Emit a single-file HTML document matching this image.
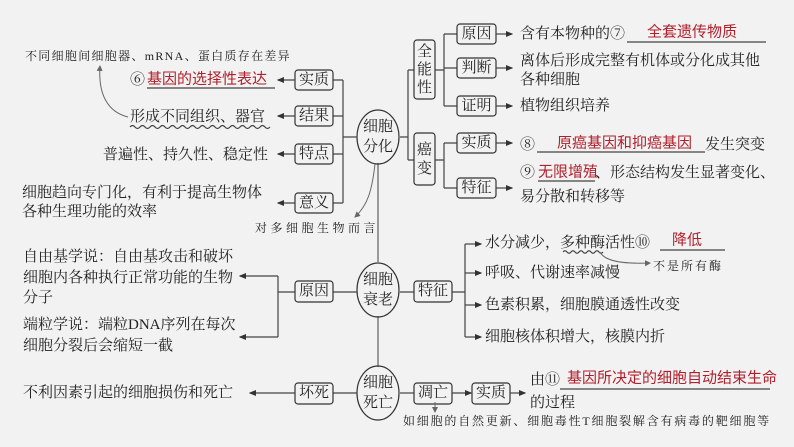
<!DOCTYPE html>
<html><head><meta charset="utf-8"><style>
html,body{margin:0;padding:0;background:#f2f2f2;}
svg{display:block;}
text{font-family:"Liberation Serif","Noto Serif CJK SC","Noto Sans CJK SC",serif;font-size:15px;fill:#222;dominant-baseline:central;}
.r{fill:#b0202c;font-family:"Liberation Sans","Noto Sans CJK SC",sans-serif;}
.n{font-size:12px;fill:#222;font-family:"Liberation Serif","Noto Serif CJK SC",serif;}
.b{fill:none;stroke:#333;stroke-width:1.2;}
.l{fill:none;stroke:#444;stroke-width:1.2;}
.g{fill:none;stroke:#999;stroke-width:2;}
</style></head><body>
<svg width="794" height="447" viewBox="0 0 794 447" xmlns="http://www.w3.org/2000/svg">
<defs>
<marker id="a" markerWidth="6" markerHeight="6" refX="5" refY="3" orient="auto"><path d="M0,0.5 L6,3 L0,5.5 Z" fill="#333"/></marker>
<marker id="s" markerWidth="7" markerHeight="7" refX="5" refY="3.5" orient="auto"><path d="M0,0.5 L6,3.5 L0,6.5 Z" fill="#666"/></marker>
</defs>

<path class="g" d="M378 163 V262 M378 316 V367"/>

<ellipse class="b" cx="378" cy="137" rx="21" ry="27" stroke-width="1.4"/>
<text x="378" y="127" text-anchor="middle">细胞</text>
<text x="378" y="147" text-anchor="middle">分化</text>
<path class="l" d="M357 137 H343 M343 80 V203 M343 80 H333 M343 116 H333 M343 154 H333 M343 203 H333"/>
<rect class="b" x="295" y="70" width="38" height="20" rx="3"/><text x="314" y="80" text-anchor="middle">实质</text>
<rect class="b" x="295" y="106" width="38" height="20" rx="3"/><text x="314" y="116" text-anchor="middle">结果</text>
<rect class="b" x="295" y="144" width="38" height="20" rx="3"/><text x="314" y="154" text-anchor="middle">特点</text>
<rect class="b" x="295" y="193" width="38" height="20" rx="3"/><text x="314" y="203" text-anchor="middle">意义</text>
<path class="l" marker-end="url(#a)" d="M295 80 H278"/>
<path class="l" marker-end="url(#a)" d="M295 116 H278"/>
<path class="l" marker-end="url(#a)" d="M295 154 H278"/>
<path class="l" marker-end="url(#a)" d="M295 203 H278"/>
<text class="n" x="25" y="56" letter-spacing="1.3">不同细胞间细胞器、mRNA、蛋白质存在差异</text>
<text x="130" y="80">⑥</text><text class="r" x="147" y="79">基因的选择性表达</text>
<path class="l" d="M147 88 H275"/>
<text x="130" y="117">形成不同组织、器官</text>
<path class="l" d="M130 127 q2.5 -3 5 0 t5 0 t5 0 t5 0 t5 0 t5 0 t5 0 t5 0 t5 0 t5 0 t5 0 t5 0 t5 0 t5 0 t5 0 t5 0 t5 0 t5 0 t5 0 t5 0 t5 0 t5 0 t5 0 t5 0 t5 0 t5 0 t5 0 t5 0"/>
<path fill="none" stroke="#666" stroke-width="1" marker-end="url(#s)" d="M128 117 C108 112 98 95 100 66"/>
<text x="103" y="155">普遍性、持久性、稳定性</text>
<text x="22" y="193">细胞趋向专门化，有利于提高生物体</text>
<text x="22" y="212">各种生理功能的效率</text>
<path fill="none" stroke="#666" stroke-width="1" marker-end="url(#s)" d="M375 164 C372 190 368 205 355 217"/>
<text class="n" x="255" y="228" letter-spacing="3.5">对多细胞生物而言</text>

<path class="l" d="M400 137 H408 M408 70 V160 M408 70 H414 M408 160 H414"/>
<rect class="b" x="414" y="40" width="21" height="59" rx="3"/>
<text x="424.5" y="52" text-anchor="middle">全</text><text x="424.5" y="70" text-anchor="middle">能</text><text x="424.5" y="88" text-anchor="middle">性</text>
<rect class="b" x="414" y="133" width="21" height="52" rx="3"/>
<text x="424.5" y="150" text-anchor="middle">癌</text><text x="424.5" y="169" text-anchor="middle">变</text>
<path class="l" d="M435 70 H444 M444 34 V106 M444 34 H457 M444 68 H457 M444 106 H457 M435 160 H444 M444 143 V188 M444 143 H457 M444 188 H457"/>
<rect class="b" x="457" y="24" width="39" height="20" rx="3"/><text x="476.5" y="34" text-anchor="middle">原因</text>
<rect class="b" x="457" y="58" width="39" height="20" rx="3"/><text x="476.5" y="68" text-anchor="middle">判断</text>
<rect class="b" x="457" y="96" width="39" height="20" rx="3"/><text x="476.5" y="106" text-anchor="middle">证明</text>
<rect class="b" x="457" y="133" width="39" height="20" rx="3"/><text x="476.5" y="143" text-anchor="middle">实质</text>
<rect class="b" x="457" y="178" width="39" height="20" rx="3"/><text x="476.5" y="188" text-anchor="middle">特征</text>
<path class="l" marker-end="url(#a)" d="M496 34 H512"/>
<path class="l" marker-end="url(#a)" d="M496 68 H512"/>
<path class="l" marker-end="url(#a)" d="M496 106 H512"/>
<path class="l" marker-end="url(#a)" d="M496 143 H512"/>
<path class="l" marker-end="url(#a)" d="M496 188 H512"/>
<text x="520" y="34">含有本物种的⑦</text><text class="r" x="647" y="32">全套遗传物质</text>
<path class="l" d="M627 42 H766"/>
<text x="520" y="61">离体后形成完整有机体或分化成其他</text>
<text x="520" y="80">各种细胞</text>
<text x="520" y="106">植物组织培养</text>
<text x="520" y="145">⑧</text><text class="r" x="557" y="143">原癌基因和抑癌基因</text>
<path class="l" d="M537 152 H705"/>
<text x="705" y="145">发生突变</text>
<text x="520" y="173">⑨</text><text class="r" x="538" y="172">无限增殖</text>
<path class="l" d="M538 181 H595"/>
<text x="595" y="173">、形态结构发生显著变化、</text>
<text x="520" y="197">易分散和转移等</text>

<ellipse class="b" cx="378" cy="290" rx="21" ry="27" stroke-width="1.4"/>
<text x="378" y="280" text-anchor="middle">细胞</text>
<text x="378" y="300" text-anchor="middle">衰老</text>
<path class="l" d="M357 292 H333 M295 292 H278 M278 276 V337"/>
<rect class="b" x="295" y="281" width="38" height="21" rx="3"/><text x="314" y="291" text-anchor="middle">原因</text>
<path class="l" marker-end="url(#a)" d="M278 276 H240"/>
<path class="l" marker-end="url(#a)" d="M278 337 H240"/>
<text x="23" y="257">自由基学说：自由基攻击和破坏</text>
<text x="23" y="278">细胞内各种执行正常功能的生物</text>
<text x="23" y="298">分子</text>
<text x="23" y="325">端粒学说：端粒DNA序列在每次</text>
<text x="23" y="346">细胞分裂后会缩短一截</text>
<path class="l" d="M400 292 H414 M452 292 H465 M465 244 V337"/>
<rect class="b" x="414" y="281" width="38" height="21" rx="3"/><text x="433" y="291" text-anchor="middle">特征</text>
<path class="l" marker-end="url(#a)" d="M465 244 H481"/>
<path class="l" marker-end="url(#a)" d="M465 273 H481"/>
<path class="l" marker-end="url(#a)" d="M465 305 H481"/>
<path class="l" marker-end="url(#a)" d="M465 337 H481"/>
<text x="485" y="243">水分减少，多种酶活性⑩</text>
<text class="r" x="672" y="240">降低</text>
<path class="l" d="M660 250 H725"/>
<path class="l" d="M563 252 q2 -2.5 4 0 t4 0 t4 0 t4 0 t4 0 t4 0 t4 0 t4 0 t4 0 t4 0"/>
<path fill="none" stroke="#666" stroke-width="1" marker-end="url(#s)" d="M600 252 C605 262 625 264 650 263"/>
<text class="n" x="653" y="266" letter-spacing="2">不是所有酶</text>
<text x="485" y="273">呼吸、代谢速率减慢</text>
<text x="485" y="305">色素积累，细胞膜通透性改变</text>
<text x="485" y="337">细胞核体积增大，核膜内折</text>

<ellipse class="b" cx="378" cy="393" rx="21" ry="27" stroke-width="1.4"/>
<text x="378" y="383" text-anchor="middle">细胞</text>
<text x="378" y="403" text-anchor="middle">死亡</text>
<path class="l" d="M357 393 H333"/>
<rect class="b" x="295" y="383" width="38" height="21" rx="3"/><text x="314" y="393" text-anchor="middle">坏死</text>
<path class="l" marker-end="url(#a)" d="M295 393 H250"/>
<text x="23" y="393">不利因素引起的细胞损伤和死亡</text>
<path class="l" d="M400 393 H414"/>
<rect class="b" x="414" y="383" width="38" height="21" rx="3"/><text x="433" y="393" text-anchor="middle">凋亡</text>
<path class="l" marker-end="url(#a)" d="M452 393 H471"/>
<rect class="b" x="472" y="383" width="38" height="21" rx="3"/><text x="491" y="393" text-anchor="middle">实质</text>
<path class="l" marker-end="url(#a)" d="M510 393 H525"/>
<text x="530" y="380">由⑪</text>
<text class="r" x="567" y="378">基因所决定的细胞自动结束生命</text>
<path class="l" d="M560 389 H770"/>
<text x="530" y="403">的过程</text>
<path fill="none" stroke="#666" stroke-width="1" marker-end="url(#s)" d="M435 402 V412"/>
<text class="n" x="403" y="421" letter-spacing="1.8">如细胞的自然更新、细胞毒性T细胞裂解含有病毒的靶细胞等</text>
</svg>
</body></html>
